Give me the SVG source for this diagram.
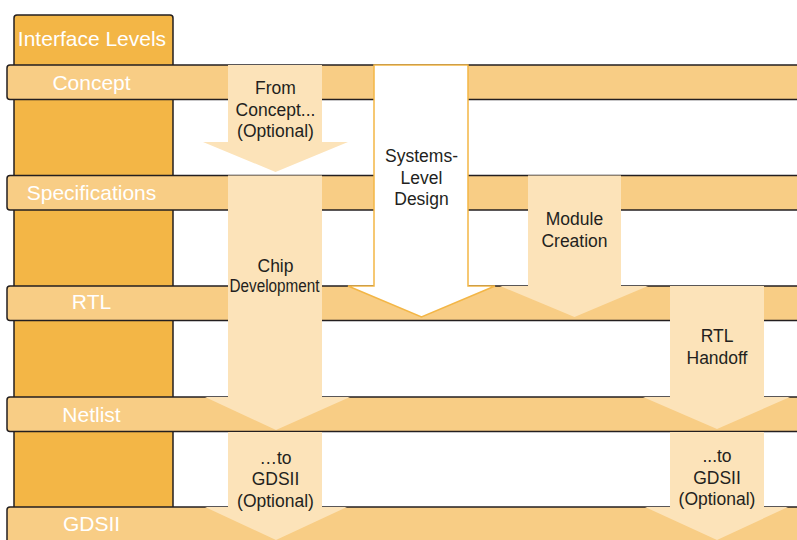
<svg xmlns="http://www.w3.org/2000/svg" width="797" height="540" viewBox="0 0 797 540">
<style>
.col{fill:#F3B646;stroke:#231F20;stroke-width:1.5}
.band{fill:#F8CD85;stroke:#231F20;stroke-width:1.5}
.arr{fill:#FCE3B9}
.sys{fill:#FFFFFF;stroke:#F3B646;stroke-width:1.5}
.lvl{font-family:"Liberation Sans",Arial,sans-serif;font-size:21px;fill:#FFFFFF;text-anchor:middle}
.lbl{font-family:"Liberation Sans",Arial,sans-serif;font-size:17.5px;fill:#231F20;text-anchor:middle}
</style>
<rect width="797" height="540" fill="#FFFFFF"/>
<g id="levels">
<rect id="column" class="col" x="14" y="15" width="159" height="545" rx="3"/>
<text class="lvl" x="92" y="46">Interface Levels</text>
<g id="concept"><rect class="band" x="7" y="65" width="800" height="34.5" rx="3"/><text class="lvl" x="91.5" y="90">Concept</text></g>
<g id="specifications"><rect class="band" x="7" y="175.5" width="800" height="34.5" rx="3"/><text class="lvl" x="91.5" y="199.5">Specifications</text></g>
<g id="rtl"><rect class="band" x="7" y="286" width="800" height="34.5" rx="3"/><text class="lvl" x="91.5" y="309">RTL</text></g>
<g id="netlist"><rect class="band" x="7" y="397" width="800" height="34.5" rx="3"/><text class="lvl" x="91.5" y="422">Netlist</text></g>
<g id="gdsii"><rect class="band" x="7" y="507" width="800" height="40" rx="3"/><text class="lvl" x="91.5" y="531">GDSII</text></g>
</g>
<g id="connectors">
<g id="from-concept"><path class="arr" d="M228 65H322V142H348L275.5 172L203 142H228Z"/>
<text class="lbl" x="275.5" y="94">From</text><text class="lbl" x="275.5" y="115.5">Concept...</text><text class="lbl" x="275.5" y="137">(Optional)</text></g>
<g id="systems-level"><path class="sys" d="M374 65H468V286H495L421.5 317L348 286H374Z"/>
<text class="lbl" x="421.5" y="162">Systems-</text><text class="lbl" x="421.5" y="183.5">Level</text><text class="lbl" x="421.5" y="205">Design</text></g>
<g id="chip-development"><path class="arr" d="M228 175.5H322V397H350L276 430L205 397H228Z"/>
<text class="lbl" x="275.5" y="271.5">Chip</text><text class="lbl" x="274.5" y="292" textLength="90" lengthAdjust="spacingAndGlyphs">Development</text></g>
<g id="module-creation"><path class="arr" d="M528 175.5H621V286H648L574.5 317L500 286H528Z"/>
<text class="lbl" x="574.5" y="225">Module</text><text class="lbl" x="574.5" y="247">Creation</text></g>
<g id="rtl-handoff"><path class="arr" d="M670 286H764V397H790L717 429L643 397H670Z"/>
<text class="lbl" x="717" y="342">RTL</text><text class="lbl" x="717" y="363.5">Handoff</text></g>
<g id="to-gdsii-left"><path class="arr" d="M228 432H322V507H347L276 540L205 507H228Z"/>
<text class="lbl" x="275.5" y="463.5">…to</text><text class="lbl" x="275.5" y="485">GDSII</text><text class="lbl" x="275.5" y="506.5">(Optional)</text></g>
<g id="to-gdsii-right"><path class="arr" d="M670 432H764V507H788L717 540L645 507H670Z"/>
<text class="lbl" x="717" y="462">...to</text><text class="lbl" x="717" y="483.5">GDSII</text><text class="lbl" x="717" y="505">(Optional)</text></g>
</g>
</svg>
